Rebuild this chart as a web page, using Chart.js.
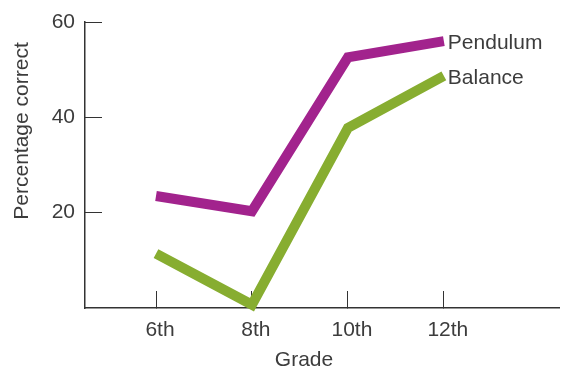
<!DOCTYPE html>
<html>
<head>
<meta charset="utf-8">
<title>Percentage correct by grade</title>
<script src="https://cdn.jsdelivr.net/npm/chart.js@4.4.0/dist/chart.umd.min.js"></script>
<style>
  html, body { margin: 0; padding: 0; background: #fff; }
  canvas { display: block; }
</style>
</head>
<body>
<canvas id="grade-chart" width="561" height="371"></canvas>
<script>
const grades = ['6th', '8th', '10th', '12th'];
const pendulum = [23.5, 20.3, 52.6, 56];
const balance = [11.4, 0.7, 37.8, 48.7];
const yTicks = [20, 40, 60];

const xTitle = 'Grade';
const yTitle = 'Percentage correct';

const fontFamily = '"Liberation Sans", Arial, sans-serif';
const fontSize = 21;
const textColor = '#3c3c3c';
const axisColor = '#333333';

const toPoints = (values) => values.map((v, i) => ({ x: i, y: v }));

// Axis titles and series names next to the last point of each line
const labelsPlugin = {
  id: 'labels',
  afterDraw(chart) {
    const ctx = chart.ctx;
    ctx.save();
    ctx.fillStyle = textColor;
    ctx.font = `${fontSize}px ${fontFamily}`;

    ctx.textAlign = 'left';
    ctx.textBaseline = 'middle';
    chart.data.datasets.forEach((ds, i) => {
      const pts = chart.getDatasetMeta(i).data;
      const last = pts[pts.length - 1];
      ctx.fillText(ds.label, last.x + 4, last.y + 2);
    });

    ctx.textAlign = 'center';
    ctx.fillText(xTitle, 304, 360);

    ctx.translate(22, 131);
    ctx.rotate(-Math.PI / 2);
    ctx.fillText(yTitle, 0, 0);
    ctx.restore();
  }
};

new Chart(document.getElementById('grade-chart'), {
  type: 'line',
  data: {
    datasets: [
      {
        label: 'Pendulum',
        data: toPoints(pendulum),
        borderColor: '#a2238d',
        borderWidth: 10,
        borderCapStyle: 'butt',
        borderJoinStyle: 'miter',
        pointRadius: 0,
        tension: 0,
        clip: false,
      },
      {
        label: 'Balance',
        data: toPoints(balance),
        borderColor: '#87ad30',
        borderWidth: 10,
        borderCapStyle: 'butt',
        borderJoinStyle: 'miter',
        pointRadius: 0,
        tension: 0,
        clip: false,
      },
    ],
  },
  options: {
    responsive: false,
    animation: false,
    devicePixelRatio: 1,
    layout: { padding: { top: 22, right: 2, left: 0, bottom: 0 } },
    plugins: {
      legend: { display: false },
      tooltip: { enabled: false },
    },
    scales: {
      x: {
        type: 'linear',
        min: -0.74,
        max: 4.2,
        z: 1,
        afterFit(scale) {
          scale.height = 63;
          scale.paddingLeft = 0;
          scale.paddingRight = 0;
        },
        afterBuildTicks(scale) { scale.ticks = grades.map((g, i) => ({ value: i })); },
        ticks: {
          color: textColor,
          font: { family: fontFamily, size: fontSize },
          padding: 27,
          labelOffset: 4,
          maxRotation: 0,
          callback: (v) => grades[v],
        },
        grid: {
          drawOnChartArea: false,
          drawTicks: true,
          tickLength: -17,
          color: axisColor,
          lineWidth: 1,
        },
        border: { display: true, color: axisColor, width: 1.5 },
      },
      y: {
        min: 0,
        max: 60,
        afterFit(scale) {
          // tick padding is only meant for the label gap, not the vertical margins
          scale.width = 85;
          scale.paddingTop = 10;
          scale.paddingBottom = 0;
        },
        afterBuildTicks(scale) { scale.ticks = yTicks.map((v) => ({ value: v })); },
        ticks: {
          color: textColor,
          font: { family: fontFamily, size: fontSize },
          padding: 27,
        },
        grid: {
          drawOnChartArea: false,
          drawTicks: true,
          tickLength: -17,
          color: axisColor,
          lineWidth: 1,
        },
        border: { display: true, color: axisColor, width: 1.5 },
      },
    },
  },
  plugins: [labelsPlugin],
});
</script>
</body>
</html>
